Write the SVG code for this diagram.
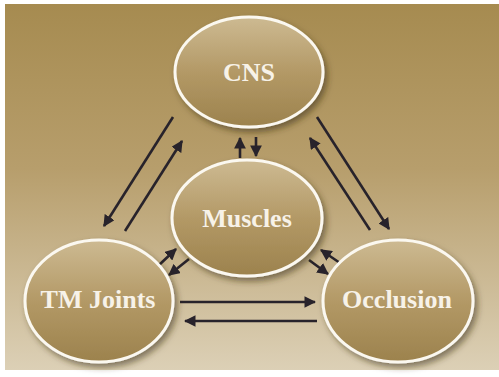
<svg xmlns="http://www.w3.org/2000/svg" width="499" height="377" viewBox="0 0 499 377">
<defs>
<linearGradient id="bg" x1="0" y1="0" x2="0" y2="1">
<stop offset="0" stop-color="#a68b50"/>
<stop offset="0.45" stop-color="#b79e6c"/>
<stop offset="1" stop-color="#dcd0b6"/>
</linearGradient>
<linearGradient id="node" x1="0" y1="0" x2="0" y2="1">
<stop offset="0" stop-color="#cdba92"/>
<stop offset="0.5" stop-color="#b39966"/>
<stop offset="1" stop-color="#9c824d"/>
</linearGradient>
<filter id="sh" x="-20%" y="-20%" width="150%" height="150%">
<feDropShadow dx="3" dy="4" stdDeviation="3" flood-color="#3a2d15" flood-opacity="0.55"/>
</filter>
<marker id="ah" viewBox="0 0 10 10" refX="9" refY="5" markerWidth="4.5" markerHeight="4.5" orient="auto" markerUnits="strokeWidth">
<path d="M0,0 L10,5 L0,10 z" fill="#28232b"/>
</marker>
<style>
.n ellipse{fill:url(#node);stroke:#fbf8f0;stroke-width:3;filter:url(#sh)}
.n text{font-family:"Liberation Serif","Times New Roman",serif;font-weight:bold;font-size:26px;fill:#f7f2e8;text-anchor:middle}
#edges line{stroke:#28232b;stroke-width:2.6;marker-end:url(#ah)}
</style>
</defs>
<rect x="0" y="0" width="499" height="377" fill="#ffffff"/>
<rect x="5" y="4" width="494" height="366" fill="url(#bg)"/>
<g id="edges">
<line x1="173" y1="117" x2="104" y2="226"/>
<line x1="125" y1="231" x2="182" y2="141"/>
<line x1="317" y1="117" x2="389" y2="229"/>
<line x1="370" y1="230" x2="310" y2="138"/>
<line x1="240" y1="158" x2="240" y2="138"/>
<line x1="256" y1="137" x2="256" y2="156"/>
<line x1="158" y1="266" x2="176" y2="249"/>
<line x1="189" y1="259" x2="169" y2="275"/>
<line x1="309" y1="260" x2="328" y2="274"/>
<line x1="340" y1="263" x2="321" y2="250"/>
<line x1="180" y1="302" x2="315" y2="302"/>
<line x1="317" y1="321" x2="185" y2="321"/>
</g>
<g id="cns" class="n">
<ellipse cx="249" cy="72" rx="74" ry="55"/>
<text x="249" y="81">CNS</text>
</g>
<g id="muscles" class="n">
<ellipse cx="247" cy="218" rx="75" ry="58"/>
<text x="247" y="227">Muscles</text>
</g>
<g id="tmjoints" class="n">
<ellipse cx="99" cy="301" rx="74" ry="61"/>
<text x="98" y="308">TM Joints</text>
</g>
<g id="occlusion" class="n">
<ellipse cx="398" cy="301" rx="75" ry="61"/>
<text x="397" y="308">Occlusion</text>
</g>
</svg>
